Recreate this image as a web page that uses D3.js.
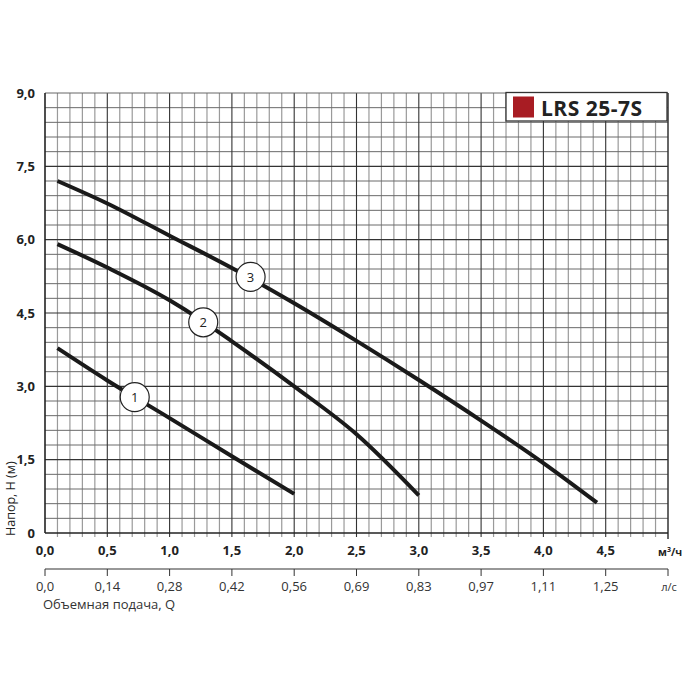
<!DOCTYPE html>
<html>
<head>
<meta charset="utf-8">
<script src="https://cdn.jsdelivr.net/npm/d3@7"></script>
<style>
  html, body { margin: 0; padding: 0; background: #ffffff; }
  svg { display: block; font-family: "Open Sans", "Noto Sans", sans-serif; }
</style>
</head>
<body>
<svg id="chart" width="700" height="700"></svg>
<script>
// flow, m3/h  -> head, m
const curve1Q = [0.1, 0.5, 1.0, 1.5, 2.0];
const curve1H = [3.78, 3.12, 2.35, 1.57, 0.8];
const curve2Q = [0.1, 0.5, 1.0, 1.25, 1.5, 2.0, 2.5, 3.0];
const curve2H = [5.91, 5.43, 4.76, 4.36, 3.92, 3.0, 2.02, 0.77];
const curve3Q = [0.1, 0.5, 1.0, 1.5, 2.0, 2.5, 3.0, 3.5, 4.0, 4.43];
const curve3H = [7.2, 6.74, 6.08, 5.42, 4.7, 3.93, 3.13, 2.3, 1.43, 0.62];

const curveNames = ["1", "2", "3"];
const labelQ = [0.72, 1.27, 1.65];
const labelH = [2.78, 4.31, 5.24];

const yTicks = [0, 1.5, 3.0, 4.5, 6.0, 7.5, 9.0];
const yTickLabels = ["0", "1,5", "3,0", "4,5", "6,0", "7,5", "9,0"];
const xTicks = [0, 0.5, 1.0, 1.5, 2.0, 2.5, 3.0, 3.5, 4.0, 4.5];
const xTickLabels = ["0,0", "0,5", "1,0", "1,5", "2,0", "2,5", "3,0", "3,5", "4,0", "4,5"];
const lsTickLabels = ["0,0", "0,14", "0,28", "0,42", "0,56", "0,69", "0,83", "0,97", "1,11", "1,25"];

const title = "LRS 25-7S";

const svg = d3.select("#chart");
const pLeft = 45, pRight = 668, pTop = 93, pBottom = 533;

const x = d3.scaleLinear().domain([0, 5]).range([pLeft, pRight]);
const y = d3.scaleLinear().domain([0, 9]).range([pBottom, pTop]);

// grid
const grid = svg.append("g");
const vMinor = d3.range(1, 50).map(i => i / 10).filter(v => Math.round(v * 10) % 5 !== 0);
const vMajor = d3.range(1, 10).map(i => i * 0.5);
const hMinor = d3.range(1, 30).map(i => i * 0.3).filter(v => Math.round(v * 10) % 15 !== 0);
const hMajor = d3.range(1, 6).map(i => i * 1.5);

grid.selectAll(".vmin").data(vMinor).enter().append("line")
    .attr("x1", d => x(d)).attr("x2", d => x(d))
    .attr("y1", pTop).attr("y2", pBottom + 4)
    .attr("stroke", "#9a9a9a").attr("stroke-width", 1.2);
grid.selectAll(".hmin").data(hMinor).enter().append("line")
    .attr("x1", pLeft).attr("x2", pRight)
    .attr("y1", d => y(d)).attr("y2", d => y(d))
    .attr("stroke", "#6a6a6a").attr("stroke-width", 1);
grid.selectAll(".vmaj").data(vMajor).enter().append("line")
    .attr("x1", d => x(d)).attr("x2", d => x(d))
    .attr("y1", pTop).attr("y2", pBottom + 4)
    .attr("stroke", "#333").attr("stroke-width", 1.1);
grid.selectAll(".hmaj").data(hMajor).enter().append("line")
    .attr("x1", pLeft).attr("x2", pRight)
    .attr("y1", d => y(d)).attr("y2", d => y(d))
    .attr("stroke", "#333").attr("stroke-width", 1.1);

// frame
grid.append("line").attr("x1", pLeft).attr("x2", pRight).attr("y1", pTop).attr("y2", pTop)
    .attr("stroke", "#666").attr("stroke-width", 1);
grid.append("line").attr("x1", pRight).attr("x2", pRight).attr("y1", pTop).attr("y2", pBottom + 6)
    .attr("stroke", "#333").attr("stroke-width", 1.5);
grid.append("line").attr("x1", pLeft).attr("x2", pRight).attr("y1", pBottom).attr("y2", pBottom)
    .attr("stroke", "#222").attr("stroke-width", 1.6);
grid.append("line").attr("x1", pLeft).attr("x2", pLeft).attr("y1", pTop).attr("y2", pBottom)
    .attr("stroke", "#222").attr("stroke-width", 1.6);

// y tick labels
svg.selectAll(".ylab").data(yTicks).enter().append("text")
    .attr("x", 35).attr("y", d => y(d)).attr("dy", "0.35em")
    .attr("text-anchor", "end").attr("font-size", 13).attr("font-weight", "bold")
    .attr("fill", "#222").text((d, i) => yTickLabels[i]);

svg.append("text")
    .attr("transform", `translate(15,${pBottom + 3}) rotate(-90)`)
    .attr("text-anchor", "start").attr("font-size", 12.5).attr("fill", "#222")
    .text("Напор, H (м)");

// x tick labels (m3/h)
svg.selectAll(".xlab").data(xTicks).enter().append("text")
    .attr("x", d => x(d)).attr("y", 555)
    .attr("text-anchor", "middle").attr("font-size", 13).attr("font-weight", "bold")
    .attr("fill", "#222").text((d, i) => xTickLabels[i]);

const unit = svg.append("text").attr("x", 658).attr("y", 556)
    .attr("font-size", 10.5).attr("font-weight", "bold").attr("fill", "#222");
unit.append("tspan").text("м");
unit.append("tspan").attr("dy", -4).attr("font-size", 7).text("3");
unit.append("tspan").attr("dy", 4).text("/ч");

// second axis (l/s)
const axisY = 569;
svg.append("line").attr("x1", pLeft).attr("x2", pRight).attr("y1", axisY).attr("y2", axisY)
    .attr("stroke", "#333").attr("stroke-width", 1.2);
svg.selectAll(".lstick").data(xTicks.concat([5])).enter().append("line")
    .attr("x1", d => x(d)).attr("x2", d => x(d))
    .attr("y1", axisY).attr("y2", axisY + 7)
    .attr("stroke", "#333").attr("stroke-width", 1);
svg.selectAll(".lslab").data(xTicks).enter().append("text")
    .attr("x", d => x(d)).attr("y", 591)
    .attr("text-anchor", "middle").attr("font-size", 13)
    .attr("fill", "#333").text((d, i) => lsTickLabels[i]);
svg.append("text").attr("x", 669).attr("y", 591)
    .attr("text-anchor", "middle").attr("font-size", 11).attr("fill", "#333").text("л/с");
svg.append("text").attr("x", 43).attr("y", 609)
    .attr("font-size", 13).attr("fill", "#333").text("Объемная подача, Q");

// curves
const series = [
    curve1Q.map((q, i) => [q, curve1H[i]]),
    curve2Q.map((q, i) => [q, curve2H[i]]),
    curve3Q.map((q, i) => [q, curve3H[i]])
];
const line = d3.line()
    .x(d => x(d[0]))
    .y(d => y(d[1]))
    .curve(d3.curveMonotoneX);

svg.append("g").selectAll("path").data(series).enter().append("path")
    .attr("d", line)
    .attr("fill", "none").attr("stroke", "#1a1a1a")
    .attr("stroke-width", 4).attr("stroke-linecap", "butt");

// curve labels
const labels = svg.append("g").selectAll("g").data(curveNames).enter().append("g")
    .attr("transform", (d, i) => `translate(${x(labelQ[i])},${y(labelH[i])})`);
labels.append("circle").attr("r", 14.5)
    .attr("fill", "#fff").attr("stroke", "#222").attr("stroke-width", 1.2);
labels.append("text").attr("dy", "0.36em").attr("text-anchor", "middle")
    .attr("font-size", 13).attr("fill", "#222").text(d => d);

// legend box
const legend = svg.append("g");
legend.append("rect").attr("x", 506).attr("y", 92.5).attr("width", 161).attr("height", 28.5)
    .attr("fill", "#fff").attr("stroke", "#333").attr("stroke-width", 1.3);
legend.append("rect").attr("x", 513).attr("y", 96.5).attr("width", 21).attr("height", 21)
    .attr("fill", "#a81c23");
legend.append("text").attr("x", 541).attr("y", 115.5)
    .attr("font-size", 21).attr("font-weight", "bold").attr("letter-spacing", 0.5)
    .attr("fill", "#222").text(title);
</script>
</body>
</html>
